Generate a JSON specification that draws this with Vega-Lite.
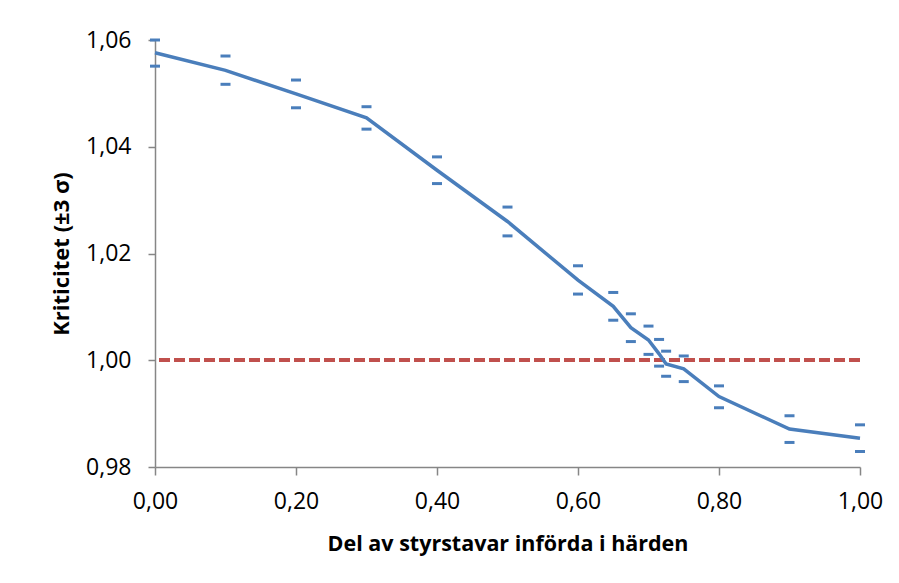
{
  "$schema": "https://vega.github.io/schema/vega-lite/v6.json",
  "width": 705,
  "height": 427,
  "autosize": {"type": "none"},
  "padding": {"left": 155, "top": 40, "right": 39, "bottom": 116},
  "background": "white",
  "config": {"view": {"stroke": null}, "font": "Open Sans"},
  "data": {
    "values": [
      {"x": 0, "k": 1.0576, "hi": 1.0600, "lo": 1.0551},
      {"x": 0.1, "k": 1.0543, "hi": 1.0570, "lo": 1.0517},
      {"x": 0.2, "k": 1.0499, "hi": 1.0525, "lo": 1.0473},
      {"x": 0.3, "k": 1.0454, "hi": 1.0475, "lo": 1.0433},
      {"x": 0.4, "k": 1.0356, "hi": 1.0381, "lo": 1.0331},
      {"x": 0.5, "k": 1.0260, "hi": 1.0287, "lo": 1.0233},
      {"x": 0.6, "k": 1.0150, "hi": 1.0177, "lo": 1.0124},
      {"x": 0.65, "k": 1.0101, "hi": 1.0127, "lo": 1.0075},
      {"x": 0.675, "k": 1.0061, "hi": 1.0087, "lo": 1.0035},
      {"x": 0.7, "k": 1.0038, "hi": 1.0064, "lo": 1.0011},
      {"x": 0.715, "k": 1.0012, "hi": 1.0039, "lo": 0.9989},
      {"x": 0.725, "k": 0.9993, "hi": 1.0017, "lo": 0.9970},
      {"x": 0.75, "k": 0.9984, "hi": 1.0008, "lo": 0.9960},
      {"x": 0.8, "k": 0.9932, "hi": 0.9952, "lo": 0.9911},
      {"x": 0.9, "k": 0.9871, "hi": 0.9896, "lo": 0.9846},
      {"x": 1.0, "k": 0.9854, "hi": 0.9879, "lo": 0.9829}
    ]
  },
  "layer": [
    {
      "mark": {"type": "rule", "color": "#c0504d", "strokeWidth": 3, "strokeDash": [11, 4]},
      "encoding": {"y": {"datum": 1}}
    },
    {
      "mark": {"type": "line", "color": "#4a7ebb", "strokeWidth": 3.5},
      "encoding": {
        "x": {
          "field": "x",
          "type": "quantitative",
          "scale": {"domain": [0, 1], "nice": false, "zero": false},
          "axis": {
            "values": [0, 0.2, 0.4, 0.6, 0.8, 1],
            "labelExpr": "replace(format(datum.value, '.2f'), '.', ',')",
            "title": "Del av styrstavar införda i härden",
            "grid": false,
            "domainColor": "#868686",
            "domainWidth": 1.5,
            "tickColor": "#868686",
            "tickWidth": 1.5,
            "tickSize": 8,
            "labelPadding": 15,
            "labelFontSize": 23,
            "labelColor": "black",
            "labelFlush": false,
            "titleFontSize": 21.5,
            "titleFontWeight": "bold",
            "titleColor": "black",
            "titlePadding": 20
          }
        },
        "y": {
          "field": "k",
          "type": "quantitative",
          "scale": {"domain": [0.98, 1.06], "nice": false, "zero": false},
          "axis": {
            "values": [0.98, 1.0, 1.02, 1.04, 1.06],
            "labelExpr": "replace(format(datum.value, '.2f'), '.', ',')",
            "title": "Kriticitet (±3 σ)",
            "grid": false,
            "domainColor": "#868686",
            "domainWidth": 1.5,
            "tickColor": "#868686",
            "tickWidth": 1.5,
            "tickSize": 7,
            "labelPadding": 17,
            "labelFontSize": 23,
            "labelColor": "black",
            "labelFlush": false,
            "titleFontSize": 22,
            "titleFontWeight": "bold",
            "titleColor": "black",
            "titlePadding": 12
          }
        }
      }
    },
    {
      "mark": {"type": "tick", "orient": "horizontal", "color": "#4a7ebb", "size": 10, "thickness": 3, "opacity": 1},
      "encoding": {
        "x": {"field": "x", "type": "quantitative"},
        "y": {"field": "hi", "type": "quantitative"}
      }
    },
    {
      "mark": {"type": "tick", "orient": "horizontal", "color": "#4a7ebb", "size": 10, "thickness": 3, "opacity": 1},
      "encoding": {
        "x": {"field": "x", "type": "quantitative"},
        "y": {"field": "lo", "type": "quantitative"}
      }
    }
  ]
}
